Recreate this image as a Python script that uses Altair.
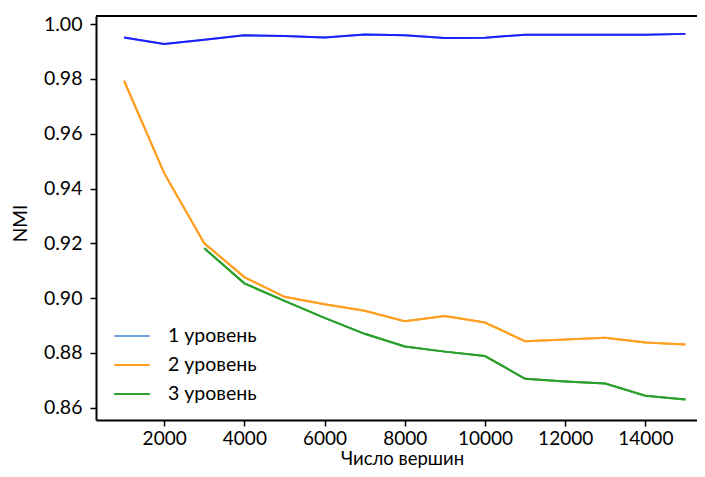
import altair as alt
import pandas as pd

# ---- data ----
x_vals = [1000, 2000, 3000, 4000, 5000, 6000, 7000, 8000, 9000, 10000,
          11000, 12000, 13000, 14000, 15000]
level1 = [0.9951, 0.9927, 0.9943, 0.9959, 0.9956, 0.9951, 0.9962, 0.9959,
          0.9949, 0.9950, 0.9961, 0.9961, 0.9961, 0.9961, 0.9964]
level2 = [0.9793, 0.9456, 0.9200, 0.9077, 0.9005, 0.8978, 0.8954, 0.8916,
          0.8935, 0.8911, 0.8843, 0.8849, 0.8856, 0.8838, 0.8831]
level3 = [None, None, 0.9182, 0.9054, 0.8990, 0.8928, 0.8870, 0.8824,
          0.8805, 0.8789, 0.8706, 0.8696, 0.8689, 0.8644, 0.8630]
series_names = ["1 уровень", "2 уровень", "3 уровень"]
line_colors = ["#1f1fff", "#ffa023", "#2ca02c"]
legend_colors = ["#6aa6da", "#ffa023", "#2ca02c"]
x_ticks = [2000, 4000, 6000, 8000, 10000, 12000, 14000]
y_ticks = [0.86, 0.88, 0.90, 0.92, 0.94, 0.96, 0.98, 1.00]

rows = []
for name, vals in zip(series_names, [level1, level2, level3]):
    for xv, yv in zip(x_vals, vals):
        if yv is not None:
            rows.append({"x": xv, "y": yv, "series": name})
df = pd.DataFrame(rows)

FONT = "Lato"
W, H = 601, 404
x_scale = alt.Scale(domain=[300, 15288], nice=False, zero=False)
y_scale = alt.Scale(domain=[0.85556, 1.00292], nice=False, zero=False)

x_enc = alt.X("x:Q", scale=x_scale,
              axis=alt.Axis(values=x_ticks, format="d", title="Число вершин",
                            grid=False, labelFontSize=19, titleFontSize=18.5,
                            labelFont=FONT, titleFont=FONT,
                            titleFontWeight="normal", tickSize=6,
                            labelPadding=3, titleX=306, titleY=48,
                            titleBaseline="bottom", titleAnchor="start",
                            titleAlign="center", labelFlush=False))
y_enc = alt.Y("y:Q", scale=y_scale,
              axis=alt.Axis(values=y_ticks, format=".2f", title="NMI", grid=False,
                            labelFontSize=19.5, titleFontSize=19, labelFont=FONT,
                            titleFont=FONT, titleFontWeight="normal",
                            tickSize=6, labelPadding=8, titleAngle=270,
                            titleX=-76, titleY=207, titleAlign="center",
                            titleBaseline="middle", titleAnchor="start",
                            labelFlush=False))

legend_layer = alt.Chart(df).mark_line(strokeWidth=2).encode(
    x=x_enc, y=y_enc,
    color=alt.Color("series:N",
                    scale=alt.Scale(domain=series_names, range=legend_colors),
                    legend=alt.Legend(title=None, orient="none", legendX=17,
                                      legendY=301, symbolType="stroke",
                                      symbolSize=1267, symbolStrokeWidth=2,
                                      labelFontSize=19.5, labelFont=FONT,
                                      labelOffset=17, rowPadding=-5.5,
                                      padding=0, labelColor="black")),
)

line_layer = alt.Chart(df).mark_line(strokeWidth=2).encode(
    x=x_enc, y=y_enc,
    stroke=alt.Stroke("series:N",
                      scale=alt.Scale(domain=series_names, range=line_colors),
                      legend=None),
)

top_spine = alt.Chart(pd.DataFrame({"y": [1.00292]})).mark_rule(
    color="black", strokeWidth=2).encode(y=alt.Y("y:Q", scale=y_scale))

chart = alt.layer(legend_layer, line_layer, top_spine).properties(
    width=W, height=H,
    autosize=alt.AutoSizeParams(type="none"),
    padding={"left": 88, "top": 8, "right": 0, "bottom": 49},
).configure_view(stroke=None).configure_axis(
    domainColor="black", domainWidth=2, tickColor="black", tickWidth=1.5,
    labelColor="black", titleColor="black",
)

chart.save("out.html", embed_options={"renderer": "svg", "actions": False})
